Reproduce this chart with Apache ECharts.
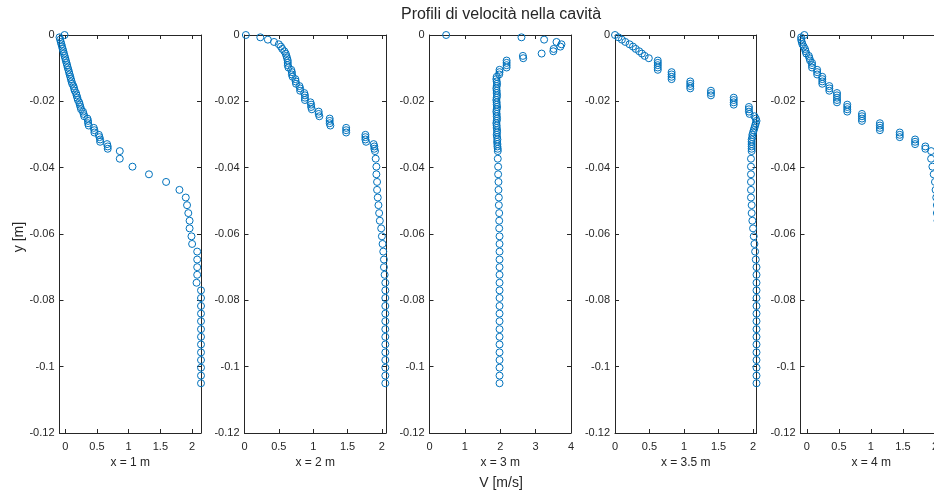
<!DOCTYPE html>
<html><head><meta charset="utf-8">
<script src="https://cdn.jsdelivr.net/npm/echarts@6/dist/echarts.min.js"></script>
<style>html,body{margin:0;padding:0;background:#fff;overflow:hidden}#c{width:960px;height:496px}</style>
</head><body><div id="c"></div>
<script>
// depth of the sampling points [m]
const depth = [
  0, -0.0007, -0.0014, -0.0021, -0.0028, -0.0035, -0.0042, -0.0049, -0.0056, -0.0063,
  -0.0070, -0.0077, -0.0084, -0.0091, -0.0098, -0.0105, -0.0112, -0.0119, -0.0126, -0.0133,
  -0.0140, -0.0147, -0.0154, -0.0161, -0.0168, -0.0175, -0.0182, -0.0189, -0.0196, -0.0203,
  -0.0210, -0.0217, -0.0224, -0.0231, -0.0238, -0.0245, -0.0252, -0.0259, -0.0266, -0.0273,
  -0.0280, -0.0287, -0.0294, -0.0301, -0.0308, -0.0315, -0.0322, -0.0329, -0.0336, -0.0343,
  -0.0350, -0.0373, -0.0397, -0.0420, -0.0443, -0.0467, -0.0490, -0.0513, -0.0537, -0.0560,
  -0.0583, -0.0607, -0.0630, -0.0653, -0.0677, -0.0700, -0.0723, -0.0747, -0.0770, -0.0793,
  -0.0817, -0.0840, -0.0863, -0.0887, -0.0910, -0.0933, -0.0957, -0.0980, -0.1003, -0.1027,
  -0.1050
];
// velocity [m/s] at x = 1 m
const velX1 = [
  -0.01, -0.09, -0.08, -0.07, -0.06, -0.05, -0.04, -0.03, -0.02, -0.01,
  0.00, 0.01, 0.02, 0.03, 0.04, 0.05, 0.06, 0.07, 0.08, 0.09,
  0.10, 0.11, 0.13, 0.14, 0.15, 0.17, 0.18, 0.19, 0.20, 0.22,
  0.23, 0.24, 0.25, 0.28, 0.29, 0.30, 0.35, 0.36, 0.36, 0.37,
  0.45, 0.46, 0.46, 0.53, 0.54, 0.55, 0.55, 0.66, 0.67, 0.67,
  0.86, 0.86, 1.06, 1.32, 1.59, 1.80, 1.90, 1.92, 1.94, 1.96,
  1.96, 1.99, 2.00, 2.08, 2.08, 2.08, 2.08, 2.07, 2.14, 2.14,
  2.14, 2.14, 2.14, 2.14, 2.14, 2.14, 2.14, 2.14, 2.14, 2.14,
  2.14
];
// velocity at x = 2 m
const velX2 = [
  0.02, 0.23, 0.34, 0.43, 0.50, 0.53, 0.55, 0.58, 0.60, 0.61,
  0.62, 0.63, 0.63, 0.63, 0.64, 0.68, 0.69, 0.69, 0.70, 0.74,
  0.745, 0.75, 0.80, 0.81, 0.81, 0.87, 0.88, 0.88, 0.88, 0.96,
  0.97, 0.97, 0.98, 1.08, 1.08, 1.09, 1.24, 1.24, 1.24, 1.25,
  1.48, 1.48, 1.48, 1.76, 1.76, 1.76, 1.77, 1.88, 1.89, 1.89,
  1.90, 1.91, 1.92, 1.92, 1.93, 1.93, 1.94, 1.95, 1.96, 1.97,
  1.99, 2.00, 2.01, 2.02, 2.03, 2.03, 2.04, 2.05, 2.05, 2.05,
  2.05, 2.05, 2.05, 2.05, 2.05, 2.05, 2.05, 2.05, 2.05, 2.05,
  2.05
];
// velocity at x = 3 m
const velX3 = [
  0.47, 2.60, 3.24, 3.59, 3.73, 3.70, 3.51, 3.50, 3.17, 2.64,
  2.65, 2.18, 2.18, 2.18, 2.18, 1.98, 1.98, 1.97, 1.90, 1.89,
  1.90, 1.91, 1.90, 1.89, 1.90, 1.90, 1.91, 1.90, 1.89, 1.90,
  1.90, 1.91, 1.90, 1.89, 1.90, 1.90, 1.91, 1.90, 1.89, 1.90,
  1.90, 1.91, 1.91, 1.90, 1.91, 1.92, 1.91, 1.92, 1.92, 1.93,
  1.93, 1.93, 1.94, 1.94, 1.95, 1.95, 1.96, 1.96, 1.97, 1.97,
  1.97, 1.98, 1.98, 1.98, 1.98, 1.98, 1.98, 1.98, 1.98, 1.98,
  1.98, 1.98, 1.98, 1.98, 1.98, 1.98, 1.98, 1.98, 1.98, 1.98,
  1.98
];
// velocity at x = 3.5 m
const velX35 = [
  0.00, 0.05, 0.10, 0.15, 0.21, 0.26, 0.30, 0.35, 0.39, 0.43,
  0.49, 0.62, 0.62, 0.62, 0.62, 0.62, 0.82, 0.82, 0.82, 0.82,
  1.09, 1.09, 1.09, 1.09, 1.39, 1.39, 1.39, 1.72, 1.72, 1.72,
  1.72, 1.94, 1.94, 1.94, 1.95, 2.02, 2.04, 2.05, 2.04, 2.03,
  2.02, 2.01, 2.00, 1.99, 1.99, 1.98, 1.98, 1.98, 1.98, 1.98,
  1.98, 1.97, 1.97, 1.97, 1.97, 1.97, 1.97, 1.98, 1.98, 1.99,
  2.00, 2.01, 2.02, 2.03, 2.04, 2.05, 2.05, 2.05, 2.05, 2.05,
  2.05, 2.05, 2.05, 2.05, 2.05, 2.05, 2.05, 2.05, 2.05, 2.05,
  2.05
];
// velocity at x = 4 m
const velX4 = [
  -0.04, -0.09, -0.09, -0.08, -0.07, -0.05, -0.03, -0.02, -0.01, 0.03,
  0.04, 0.05, 0.08, 0.08, 0.08, 0.16, 0.16, 0.16, 0.24, 0.24,
  0.24, 0.24, 0.35, 0.35, 0.35, 0.47, 0.47, 0.47, 0.47, 0.47,
  0.63, 0.63, 0.63, 0.63, 0.86, 0.86, 0.86, 0.86, 1.14, 1.14,
  1.14, 1.14, 1.45, 1.45, 1.45, 1.69, 1.69, 1.69, 1.85, 1.85,
  1.94, 1.94, 1.96, 1.98, 2.00, 2.01, 2.02, 2.03, 2.03, 2.04,
  2.05, 2.09, 2.09, 2.09, 2.09, 2.09, 2.09, 2.09, 2.09, 2.09,
  2.09, 2.09, 2.09, 2.09, 2.09, 2.09, 2.09, 2.09, 2.09, 2.09,
  2.09
];
const panelVel = [velX1, velX2, velX3, velX35, velX4];
const panelNames = ['x = 1 m', 'x = 2 m', 'x = 3 m', 'x = 3.5 m', 'x = 4 m'];
const xMinVals = [-0.09, 0, 0, 0, -0.1];
const xMaxVals = [2.14, 2.06, 4, 2.05, 2.11];
const xTickVals = [
  [0, 0.5, 1, 1.5, 2],
  [0, 0.5, 1, 1.5, 2],
  [0, 1, 2, 3, 4],
  [0, 0.5, 1, 1.5, 2],
  [0, 0.5, 1, 1.5, 2]
];
const yMin = -0.12, yMax = 0, yStep = 0.02;
const titleText = 'Profili di velocità nella cavità';
const yLabelText = 'y [m]';
const xLabelText = 'V [m/s]';

// layout
const gridLeft = [59.5, 244.5, 429.5, 615, 800.5];
const gridWidth = 141.5;
const gridTop = 35, gridHeight = 398;
const axisColor = '#262626';
const font = 'Liberation Sans, Arial, Helvetica, sans-serif';

const grids = [], xAxes = [], yAxes = [], series = [];
for (let i = 0; i < 5; i++) {
  grids.push({left: gridLeft[i], top: gridTop, width: gridWidth, height: gridHeight, containLabel: false});
  const lineStyle = {color: axisColor, width: 1};
  const baseX = {
    type: 'value', gridIndex: i, min: xMinVals[i], max: xMaxVals[i],
    axisLine: {show: true, onZero: false, lineStyle},
    splitLine: {show: false}
  };
  xAxes.push(Object.assign({}, baseX, {
    position: 'bottom',
    axisTick: {show: true, inside: true, length: 4, customValues: xTickVals[i], lineStyle},
    axisLabel: {show: true, customValues: xTickVals[i], color: axisColor, fontSize: 11, fontFamily: font, margin: 8},
    name: panelNames[i], nameLocation: 'middle', nameGap: 24,
    nameTextStyle: {color: axisColor, fontSize: 12, fontFamily: font}
  }));
  xAxes.push(Object.assign({}, baseX, {
    position: 'top',
    axisTick: {show: true, inside: true, length: 4, customValues: xTickVals[i], lineStyle},
    axisLabel: {show: false}
  }));
  const baseY = {
    type: 'value', gridIndex: i, min: yMin, max: yMax, interval: yStep,
    axisLine: {show: true, onZero: false, lineStyle},
    splitLine: {show: false},
    axisTick: {show: true, inside: true, length: 4, lineStyle}
  };
  yAxes.push(Object.assign({}, baseY, {
    position: 'left',
    axisLabel: {show: true, color: axisColor, fontSize: 11, fontFamily: font, margin: 5}
  }));
  yAxes.push(Object.assign({}, baseY, {position: 'right', axisLabel: {show: false}}));
  const vel = panelVel[i];
  series.push({
    type: 'scatter', xAxisIndex: 2 * i, yAxisIndex: 2 * i, clip: false,
    symbol: 'circle', symbolSize: 7,
    itemStyle: {color: 'rgba(0,0,0,0)', borderColor: '#0072BD', borderWidth: 1, opacity: 1},
    emphasis: {disabled: true},
    data: depth.map((y, k) => [vel[k], y])
  });
}

const chart = echarts.init(document.getElementById('c'), null, {renderer: 'canvas'});
chart.setOption({
  animation: false,
  backgroundColor: '#fff',
  grid: grids, xAxis: xAxes, yAxis: yAxes, series,
  graphic: [
    {type: 'text', x: 501, y: 15, style: {text: titleText, fill: axisColor, font: '16px ' + font, textAlign: 'center', textVerticalAlign: 'middle'}},
    {type: 'text', x: 501, y: 483, style: {text: xLabelText, fill: axisColor, font: '14px ' + font, textAlign: 'center', textVerticalAlign: 'middle'}},
    {type: 'text', x: 19, y: 237, rotation: Math.PI / 2, style: {text: yLabelText, fill: axisColor, font: '14px ' + font, textAlign: 'center', textVerticalAlign: 'middle'}}
  ]
});
</script>
</body></html>
